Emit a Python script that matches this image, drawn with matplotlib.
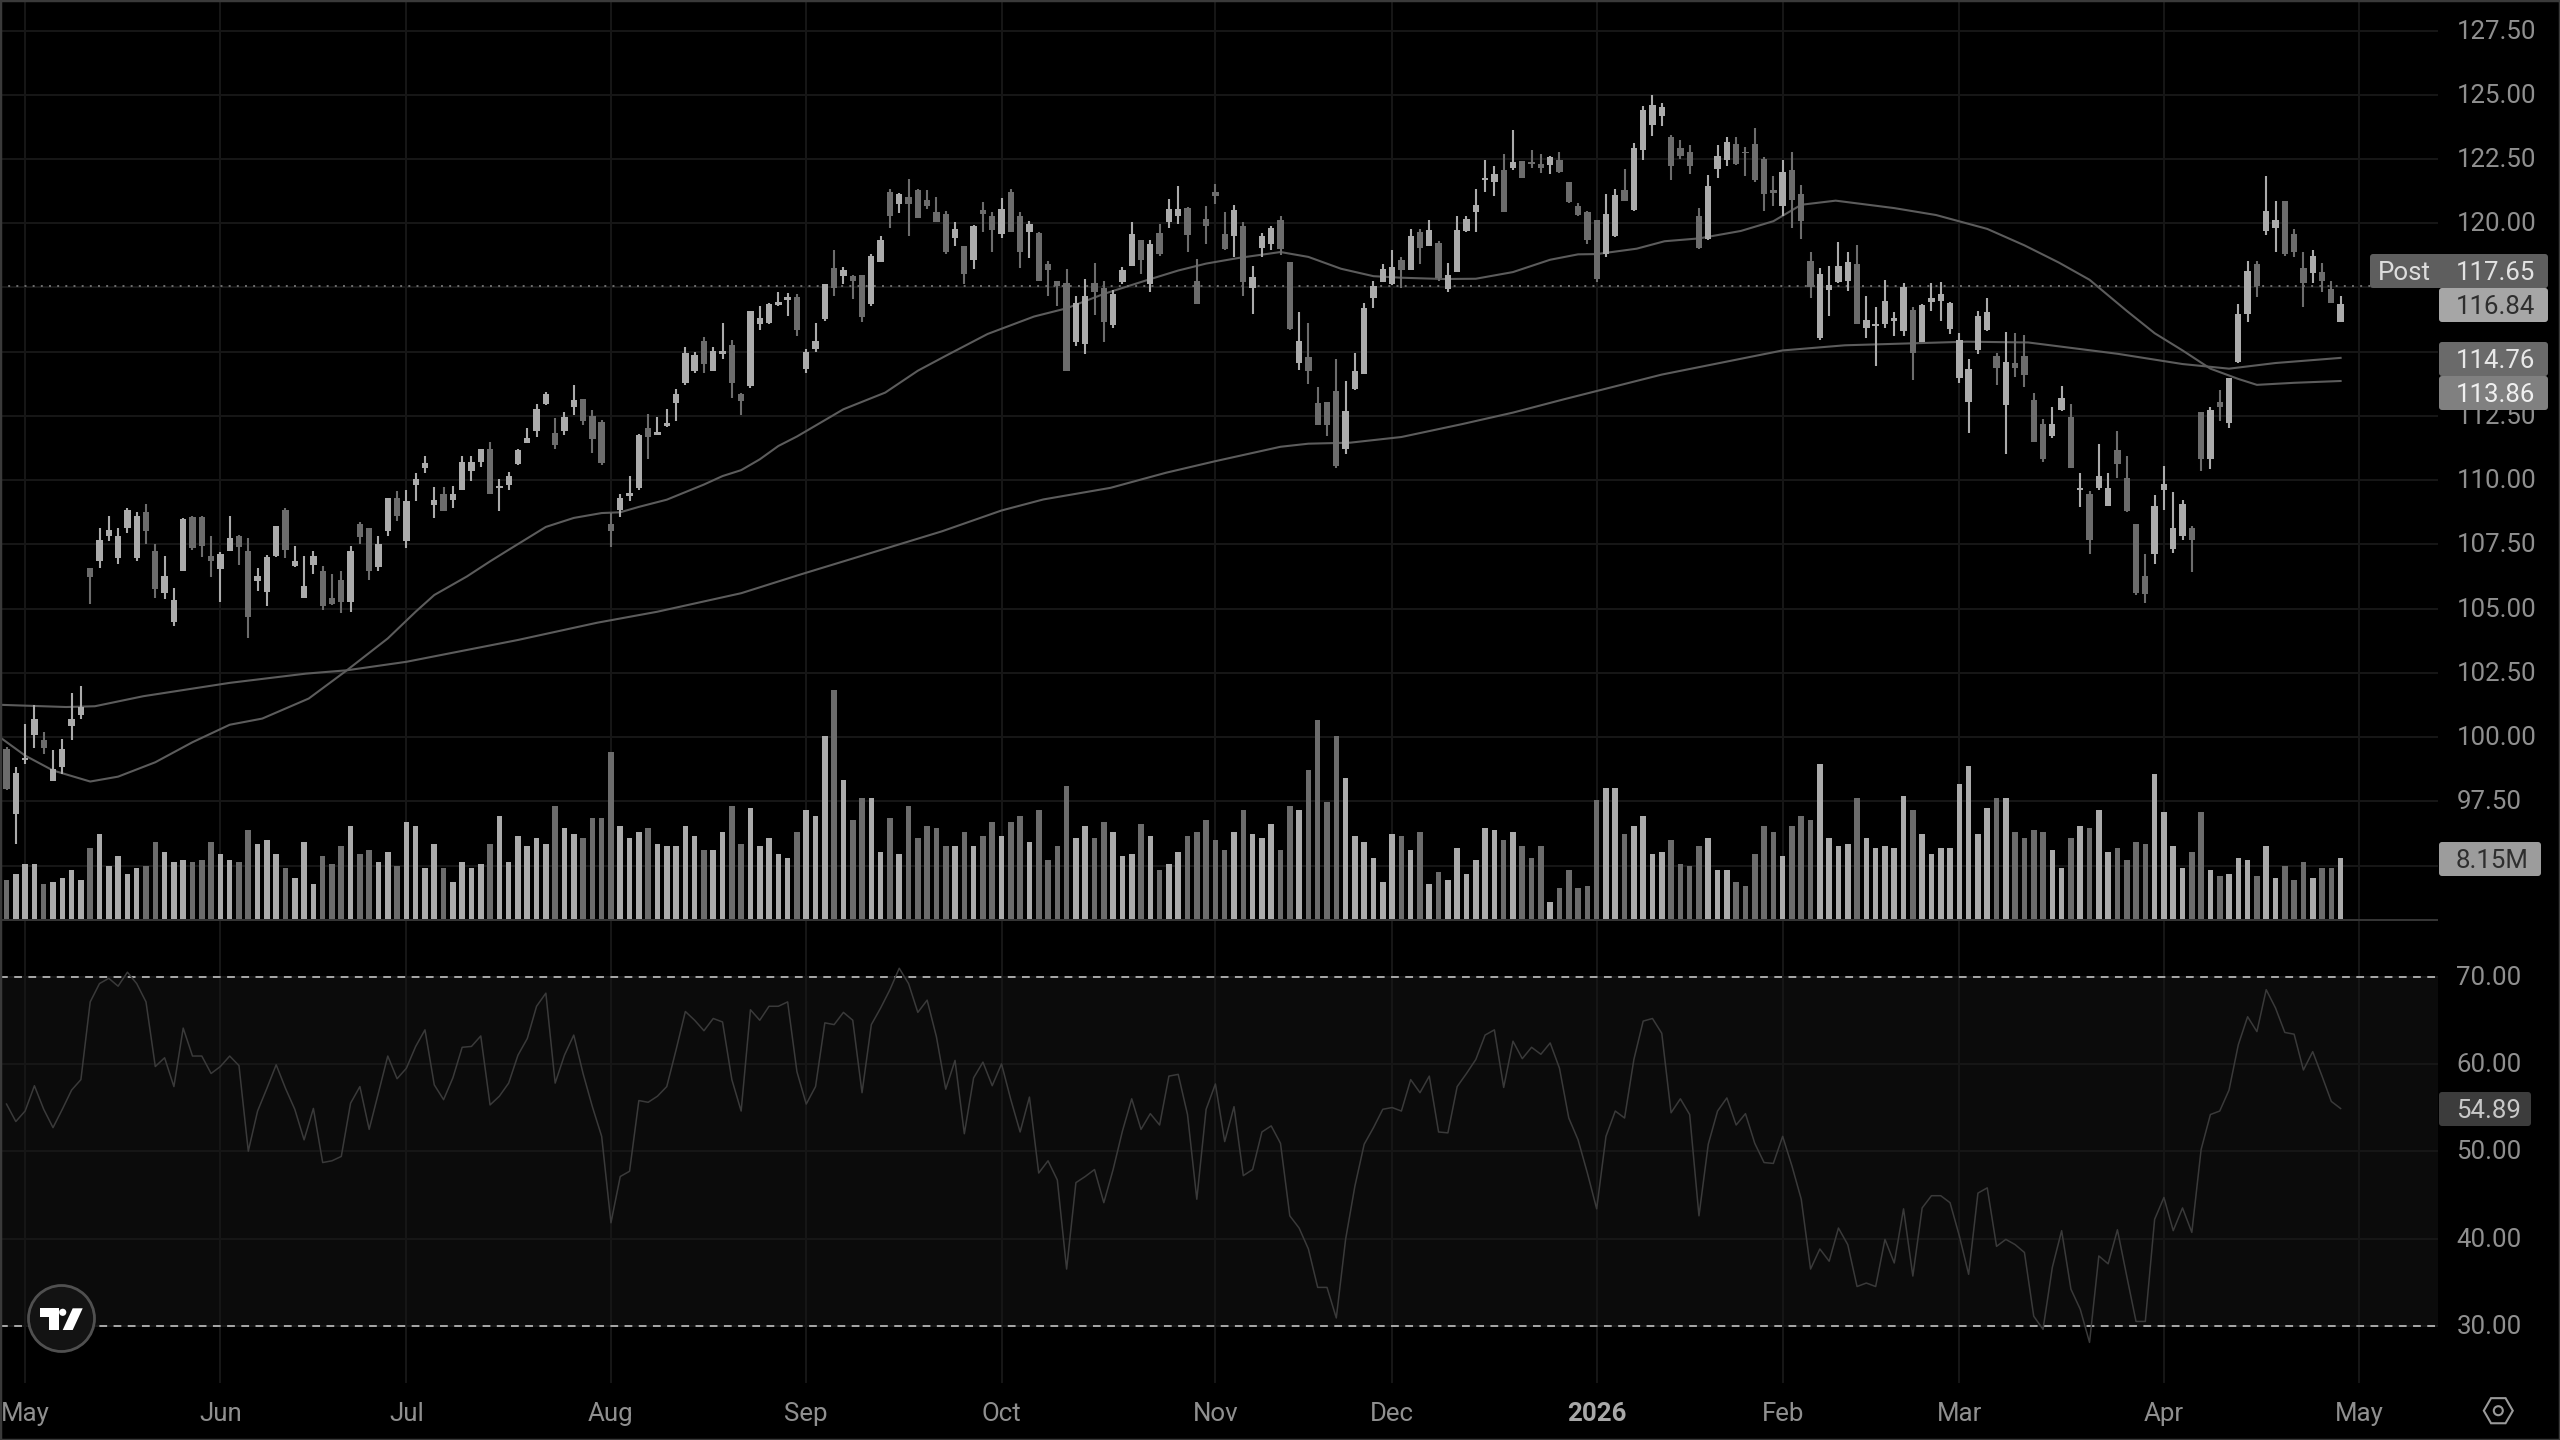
import matplotlib
matplotlib.use("Agg")
import matplotlib.pyplot as plt
from matplotlib.patches import Circle, FancyBboxPatch, Polygon, Rectangle, RegularPolygon
from matplotlib.transforms import ScaledTranslation

plt.rcParams['font.family'] = ['Roboto', 'DejaVu Sans']

# daily candles, one value per session, May 2025 to Apr 2026
opens = [99.54,97.0,99.09,100.09,99.87,98.3,98.83,100.42,100.85,106.58,106.84,107.84,106.97,108.14,106.97,108.76,107.23,105.6,104.49,106.45,
 108.55,108.57,107.03,106.54,107.23,107.84,107.23,106.06,105.66,107.06,108.85,106.67,105.43,106.71,106.45,105.4,106.12,105.27,108.31,108.14,
 106.62,108.01,109.31,107.62,109.81,110.48,109.02,109.48,109.24,109.63,110.35,110.72,111.2,109.7,109.81,110.64,111.43,111.91,112.96,111.82,
 111.91,112.85,113.15,112.5,112.26,108.31,108.85,109.38,109.7,112.04,111.75,112.11,112.99,113.8,114.26,115.43,114.26,114.91,115.26,113.35,
 113.65,116.08,116.11,116.82,117.01,117.12,114.32,115.1,116.28,118.26,117.94,117.93,117.99,116.84,118.49,121.22,120.74,121.03,121.29,120.9,
 120.42,120.35,119.43,119.1,118.58,120.51,120.27,119.57,121.2,120.27,119.66,119.64,118.4,117.77,117.68,115.37,115.3,117.68,117.49,116.04,
 117.71,118.32,119.34,117.64,119.64,120.03,120.29,120.61,117.77,120.18,121.22,119.57,119.51,119.9,117.49,119.05,119.21,120.11,118.49,114.56,
 114.81,113.02,113.06,113.48,111.22,113.54,114.15,117.1,117.71,117.64,118.56,118.17,119.66,119.11,119.24,117.45,118.1,119.69,120.42,121.68,
 121.61,122.07,122.17,122.42,122.4,122.3,122.27,122.46,121.59,120.66,120.44,120.12,118.81,119.52,121.29,120.52,122.87,123.81,124.17,123.36,
 122.92,122.76,120.28,119.38,122.12,122.47,123.07,122.79,123.07,122.49,121.29,120.68,122.06,121.15,118.54,115.55,117.4,117.73,117.77,118.41,
 115.92,115.99,116.09,116.19,115.82,116.62,115.39,116.93,116.97,115.9,113.98,113.04,115.05,115.86,114.85,112.91,114.58,114.85,113.11,112.2,
 111.7,112.75,112.47,109.62,109.45,109.69,109.01,111.17,110.09,108.28,106.27,107.14,109.62,107.34,107.81,108.15,112.64,110.83,113.04,112.24,
 114.61,116.46,118.41,119.68,119.81,120.86,119.58,118.27,118.07,118.09,117.46,116.15]
closes = [97.98,98.6,99.18,100.72,99.57,98.76,99.54,100.72,101.17,106.22,107.68,108.05,107.84,108.85,108.62,108.01,105.75,106.28,105.34,108.49,
 107.36,107.45,106.84,107.14,107.75,107.4,104.66,106.28,107.01,108.2,107.29,106.87,105.89,107.06,105.1,105.18,105.27,107.23,107.79,106.45,
 107.53,109.31,108.62,109.18,110.03,110.68,109.24,108.79,109.47,110.72,110.72,111.2,109.48,109.79,110.18,111.16,111.65,112.76,113.35,111.37,
 112.47,113.13,112.31,111.59,110.65,108.01,109.31,109.51,111.75,111.68,111.89,112.21,113.37,114.95,114.87,114.52,115.04,115.04,113.8,113.09,
 116.6,116.3,116.86,116.95,117.13,115.84,114.97,115.4,117.62,117.49,118.17,117.77,116.34,118.72,119.34,120.29,121.12,120.74,120.21,120.66,
 120.03,118.88,119.79,118.01,119.9,120.35,119.75,120.57,119.66,118.88,119.96,117.77,118.17,117.54,114.26,116.89,117.15,117.32,116.15,117.23,
 118.17,119.57,118.56,119.18,118.79,120.57,120.57,119.53,116.84,119.88,121.07,119.01,120.51,117.71,117.9,119.49,119.83,119.01,115.89,115.4,
 114.26,112.14,112.14,110.55,112.7,114.26,116.69,117.55,118.23,118.3,118.17,119.49,119.04,119.73,117.88,117.97,119.73,120.16,120.73,121.77,
 121.9,120.44,122.4,121.77,122.3,122.17,122.59,121.98,120.83,120.31,119.36,117.83,120.35,121.09,120.88,122.94,124.4,124.61,124.54,122.22,
 122.63,122.22,119.05,121.45,122.6,123.16,122.32,122.73,121.69,121.15,121.19,122.0,120.91,120.08,117.53,118.04,117.6,118.34,118.51,116.09,
 116.22,116.09,116.97,116.3,117.53,114.95,116.8,117.09,117.24,116.89,115.45,114.34,116.39,116.55,114.38,114.61,114.38,114.08,111.5,110.83,
 112.2,113.18,110.47,109.69,107.68,110.16,109.69,110.63,108.79,105.6,105.58,108.98,109.87,108.15,109.06,107.68,110.83,112.73,112.84,113.98,
 116.46,118.14,117.56,120.46,120.11,118.81,118.9,117.69,118.74,117.77,116.89,116.86]
highs = [99.6,98.85,100.5,101.24,100.2,99.48,99.93,101.73,101.98,106.58,108.14,108.62,108.14,108.92,108.76,109.08,107.51,107.06,105.79,108.53,
 108.59,108.62,107.84,107.19,108.62,107.88,107.75,106.58,107.1,108.23,108.92,107.45,107.06,107.23,106.67,106.35,106.45,107.45,108.36,108.14,
 107.84,109.31,109.57,109.63,110.26,110.96,109.73,109.73,109.79,110.96,110.96,111.22,111.48,110.03,110.31,111.2,112.04,112.98,113.45,112.43,
 112.67,113.7,113.15,112.72,112.34,108.72,109.47,110.18,111.78,112.59,112.47,112.76,113.54,115.17,115.0,115.56,115.17,116.12,115.47,113.39,
 116.6,116.78,116.91,117.34,117.27,117.25,115.1,116.12,117.62,118.95,118.3,117.97,117.99,118.79,119.51,121.35,121.18,121.74,121.35,121.29,
 121.03,120.48,120.03,119.1,119.95,120.81,120.42,121.0,121.35,120.42,120.09,119.66,118.52,117.77,118.23,117.15,117.84,118.46,117.75,117.42,
 118.3,120.03,119.36,119.34,119.96,120.96,121.45,120.64,118.62,120.66,121.52,120.42,120.73,120.03,118.32,119.62,119.9,120.27,118.49,116.54,
 116.12,113.63,113.06,114.71,113.87,114.95,116.89,117.75,118.43,118.95,118.69,119.79,119.79,120.12,119.3,118.46,120.27,120.29,121.35,122.46,
 122.23,122.7,123.63,122.42,122.85,122.7,122.62,122.79,121.59,120.79,120.48,120.12,121.15,121.35,122.12,123.12,124.57,125.01,124.7,123.43,
 123.23,123.03,120.58,121.89,123.03,123.36,123.36,122.96,123.7,122.56,121.82,122.47,122.76,121.49,118.87,118.27,118.34,119.28,118.87,119.17,
 117.16,116.73,117.8,116.53,117.67,116.75,116.86,117.67,117.73,116.93,115.72,114.72,116.57,117.09,114.96,115.75,115.72,115.66,113.4,112.37,
 112.84,113.65,112.97,110.29,109.56,111.39,110.29,111.93,110.94,108.28,107.14,109.42,110.56,109.53,109.22,108.22,112.64,112.84,113.51,113.98,
 116.86,118.54,118.54,121.82,120.86,120.88,119.79,118.87,118.94,118.47,117.77,117.16]
lows = [97.95,95.83,98.96,99.57,99.35,98.3,98.57,99.87,100.72,105.18,106.6,107.62,106.75,107.94,106.84,107.53,105.43,105.36,104.34,106.45,
 107.29,107.0,106.22,105.27,107.23,106.68,103.87,105.7,105.1,107.01,106.97,106.62,105.43,106.34,104.95,105.14,104.82,104.88,107.51,106.12,
 106.48,107.84,108.4,107.36,109.18,110.29,108.53,108.79,108.92,109.63,109.96,110.51,109.48,108.79,109.63,110.59,111.43,111.69,112.92,111.22,
 111.76,112.54,112.14,111.07,110.59,107.38,108.57,109.18,109.63,110.83,111.75,112.08,112.3,113.7,114.17,114.19,114.26,114.71,113.18,112.53,
 113.57,115.84,116.08,116.78,116.39,115.61,114.19,114.97,116.21,117.15,117.62,117.06,116.15,116.76,118.49,119.82,120.4,119.51,120.21,120.57,
 120.03,118.82,119.1,117.62,118.23,119.66,118.88,119.43,119.66,118.26,118.66,117.77,117.16,116.76,114.26,115.21,114.91,116.41,115.37,115.93,
 117.64,118.32,118.01,117.34,118.72,119.82,119.96,118.88,116.84,119.21,120.74,118.95,118.69,117.16,116.47,118.69,118.95,118.75,115.85,114.29,
 113.74,112.14,111.72,110.48,111.0,113.5,114.13,116.69,117.71,117.58,117.49,118.17,118.43,119.1,117.77,117.34,118.1,119.66,119.66,121.22,
 121.07,120.44,122.07,121.77,122.14,121.94,121.9,121.94,120.77,120.27,119.21,117.71,118.67,119.48,120.88,120.48,122.47,123.4,123.77,121.69,
 122.52,121.93,118.98,119.34,121.78,122.22,122.25,121.82,121.62,120.48,120.68,120.28,119.81,119.38,117.1,115.46,116.39,117.67,117.37,116.06,
 115.55,114.45,115.92,115.63,115.63,113.91,115.39,116.57,116.19,115.68,113.78,111.84,114.91,115.79,113.69,111.03,114.02,113.62,111.47,110.72,
 111.63,112.71,110.47,108.95,107.14,109.62,108.98,110.09,108.75,105.54,105.2,106.74,108.82,107.18,107.68,106.41,110.36,110.43,112.3,112.04,
 114.58,116.17,117.13,119.54,118.9,118.74,118.67,116.73,117.67,117.33,116.89,116.15]

# volume in millions
volume = [5.23,6.01,7.32,7.32,4.71,4.97,5.49,6.54,5.23,9.41,11.24,7.06,8.37,6.01,6.8,7.06,10.2,8.89,7.58,7.84,
 7.58,7.84,10.2,8.63,7.84,7.58,11.77,9.94,10.46,8.63,6.8,5.49,10.2,4.71,8.37,7.32,9.67,12.29,8.63,9.15,
 7.58,8.89,7.06,12.81,12.29,6.8,9.94,6.8,4.97,7.58,6.8,7.32,9.94,13.6,7.58,10.98,9.67,10.72,9.94,14.9,
 12.03,11.24,10.72,13.34,13.34,21.96,12.29,10.72,11.5,12.03,9.94,9.67,9.67,12.29,10.98,9.15,9.15,11.5,14.9,9.94,
 14.64,9.67,10.72,8.63,8.11,11.5,14.38,13.6,24.06,30.07,18.3,13.07,15.95,15.95,8.89,13.34,8.63,14.9,10.72,12.29,
 12.03,9.67,9.67,11.5,9.67,10.98,12.81,10.98,12.81,13.6,10.2,14.38,7.84,9.67,17.52,10.72,12.29,10.72,12.81,11.5,
 8.37,8.63,12.55,10.98,6.54,7.32,8.89,10.98,11.5,13.07,10.46,9.15,11.5,14.38,11.24,10.72,12.55,9.15,14.9,14.38,
 19.61,26.15,15.43,24.06,18.56,10.98,10.2,8.11,4.97,11.24,10.98,9.15,11.5,4.71,6.28,5.23,9.41,6.01,7.84,12.03,
 11.77,10.46,11.5,9.67,8.11,9.67,2.35,4.18,6.54,4.18,4.45,15.69,17.26,17.26,11.24,12.29,13.6,8.63,8.89,10.46,
 7.32,7.06,9.67,10.72,6.54,6.54,4.97,4.45,8.63,12.29,11.5,8.37,12.29,13.6,13.07,20.4,10.72,9.67,9.94,15.95,
 10.72,9.41,9.67,9.41,16.21,14.38,11.24,8.63,9.41,9.41,17.78,20.13,11.24,14.64,15.95,15.95,11.5,10.72,11.77,11.5,
 9.15,6.8,10.72,12.29,12.03,14.38,8.89,9.41,7.84,10.2,9.94,19.09,14.12,9.67,6.8,8.89,14.12,6.54,5.75,6.01,
 8.11,7.84,5.75,9.67,5.49,7.06,5.23,7.58,5.49,6.8,6.8,8.15]

rsi = [55.4,53.4,54.6,57.5,54.8,52.7,54.8,57.0,58.2,67.1,69.2,69.8,68.9,70.5,69.2,67.1,59.7,60.7,57.4,64.1,
 60.9,60.9,58.9,59.7,60.9,59.8,50.0,54.6,57.2,59.9,57.2,54.8,51.3,54.9,48.7,48.9,49.4,55.5,57.4,52.5,
 56.7,60.9,58.3,59.5,62.0,63.9,57.6,55.9,58.4,61.9,62.0,63.2,55.3,56.3,57.8,61.0,62.9,66.6,68.1,57.8,
 61.0,63.3,58.9,55.1,51.7,41.8,47.1,47.7,55.8,55.6,56.3,57.4,61.6,66.0,65.0,63.8,65.2,64.8,58.2,54.6,
 66.2,65.0,66.6,66.6,67.1,59.1,55.4,57.4,64.7,64.5,65.9,65.0,56.7,64.5,66.4,68.5,70.95,69.2,65.9,67.3,
 63.1,57.1,60.4,52.0,58.4,60.2,57.5,60.0,55.9,52.2,56.2,47.5,48.9,46.7,36.5,46.4,47.1,47.9,44.1,47.9,
 52.3,56.0,52.5,54.3,53.0,58.6,58.8,54.2,44.5,54.8,57.7,51.1,55.1,47.2,47.9,52.2,52.9,50.9,42.6,41.2,
 38.8,34.4,34.4,30.9,39.9,46.0,50.8,52.7,54.8,55.0,54.6,58.2,56.7,58.6,52.2,52.1,57.4,58.9,60.5,63.3,
 63.9,57.3,62.6,60.6,61.9,61.1,62.4,59.5,53.8,51.3,47.5,43.4,51.7,54.6,53.8,60.5,64.9,65.2,63.5,54.4,
 56.0,54.2,42.6,50.8,54.6,56.1,53.0,54.3,50.9,48.7,48.6,51.7,48.3,44.5,36.5,38.8,37.4,41.2,39.3,34.5,
 34.9,34.5,39.9,37.2,43.4,35.7,43.5,44.9,44.9,44.1,40.3,35.9,45.2,45.8,39.1,39.9,39.3,38.4,31.1,29.6,
 36.7,40.9,34.2,31.9,28.1,38.0,37.1,41.0,35.7,30.5,30.5,42.2,44.7,40.9,43.5,40.7,50.2,54.2,54.6,57.0,
 62.2,65.4,63.7,68.5,66.4,63.6,63.4,59.3,61.4,58.6,55.7,54.89]

# moving averages, read at the sessions where the curve bends
ma50_days = [-1,2,5,9,12,16,20,24,27.5,32.5,36.6,41,44,46,49.5,52,54,58,61,64,66,68,71,75,77,79,81,83,85,
 90,94.5,98,101,105.5,110.5,114,118,122.5,126,129,132.5,137,140,143.5,147,150,154.5,158,162,166,169,171,
 175.3,178.3,182,186.5,190,193,196.7,203,207.5,213,217,220.7,224,228,231,234,237,240,242,246,251]
ma50 = [100.07,99.28,98.7,98.27,98.46,99.02,99.8,100.48,100.72,101.5,102.6,103.84,104.88,105.53,106.25,106.84,107.29,108.18,108.53,108.72,108.75,108.96,109.24,109.83,110.16,110.39,110.81,111.33,111.7,
 112.76,113.41,114.26,114.84,115.69,116.37,116.69,117.25,117.77,118.16,118.43,118.65,118.88,118.69,118.23,117.94,117.88,117.83,117.84,118.1,118.58,118.79,118.8,
 119.01,119.3,119.41,119.7,120.08,120.72,120.88,120.59,120.32,119.78,119.14,118.47,117.8,116.59,115.72,115.05,114.34,113.94,113.71,113.79,113.86]
ma200_days = [-1,6.4,9.5,14.7,24,32.2,36.6,43,55,63.5,70,79,85.3,100.6,107,111.5,118.7,124.7,130,137,140,144.5,150,156.5,162,167.5,171,
 178,184.5,191,197.7,204.3,210.8,217.4,227,234,239,244,251]
ma200 = [101.26,101.17,101.2,101.59,102.11,102.47,102.6,102.93,103.78,104.45,104.88,105.6,106.32,108.01,108.82,109.25,109.7,110.29,110.74,111.3,111.42,111.46,111.68,112.18,112.63,113.15,113.47,
 114.11,114.58,115.05,115.25,115.32,115.39,115.36,114.92,114.52,114.34,114.56,114.76]

price_ticks = [95,97.5,100,102.5,105,107.5,110,112.5,115,117.5,120,122.5,125,127.5]
# these three sit under the value tags in the reference
hidden_ticks = [95,115,117.5]
rsi_ticks = [30,40,50,60,70]
month_days = [2,23,43,65,86,107,130,149,171,191,210,232,253]
month_labels = ['May','Jun','Jul','Aug','Sep','Oct','Nov','Dec','2026','Feb','Mar','Apr','May']

UP = '#ababab'
DOWN = '#6c6c6c'
GRID = '#171717'
TEXT = '#8f8f8f'

W, H = 2560, 1440
PLOT_R = 2437.6
DIV_Y = 920
RSI_B = 1383

fig = plt.figure(figsize=(W / 100, H / 100), dpi=100, facecolor='black')

def make_axes(top, bottom, z):
    a = fig.add_axes([0, 1 - bottom / H, PLOT_R / W, (bottom - top) / H], zorder=z)
    a.patch.set_visible(False)
    a.set_xlim(-0.7, 261.43)
    for s in a.spines.values():
        s.set_visible(False)
    a.tick_params(length=0)
    return a

ax = make_axes(0, DIV_Y, 1)
ax_vol = make_axes(0, DIV_Y, 2)
ax_rsi = make_axes(DIV_Y, RSI_B, 1)

days = list(range(len(closes)))

# price pane
ax.set_ylim(92.88, 128.69)
ax.set_yticks(price_ticks)
ax.set_yticklabels(['' if t in hidden_ticks else f'{t:.2f}' for t in price_ticks], fontsize=18.6, color=TEXT, ha='left')
ax.yaxis.tick_right()
ax.tick_params(axis='y', pad=13.5)
ax.set_xticks(month_days)
ax.set_xticklabels([])
ax.grid(True, color=GRID, lw=1.4)
ax.set_axisbelow(True)

ax.plot(ma50_days, ma50, color='#5c5c5c', lw=1.5, zorder=2)
ax.plot(ma200_days, ma200, color='#5c5c5c', lw=1.5, zorder=2)
ax.axhline(117.57, color='#6e6e6e', lw=1.4, ls=(0, (1, 3.2)), zorder=2)

colors = [UP if c >= o else DOWN for o, c in zip(opens, closes)]
ax.vlines(days, lows, highs, colors=colors, lw=1.5, zorder=3)
bottoms = [min(o, c) for o, c in zip(opens, closes)]
heights = [max(abs(c - o), 0.06) for o, c in zip(opens, closes)]
ax.bar(days, heights, bottom=bottoms, width=0.68, color=colors, lw=0, zorder=4)

# volume pane shares the price area
ax_vol.set_ylim(0, 120.3)
ax_vol.bar(days, volume, width=0.6, color=colors, lw=0)
ax_vol.set_xticks([])
ax_vol.set_yticks([])

# rsi pane
ax_rsi.set_ylim(23.45, 76.48)
ax_rsi.axhspan(30, 70, color='#0b0b0b', lw=0, zorder=0)
ax_rsi.set_yticks(rsi_ticks)
ax_rsi.set_yticklabels([f'{t:.2f}' for t in rsi_ticks], fontsize=18.6, color=TEXT, ha='left')
ax_rsi.yaxis.tick_right()
ax_rsi.tick_params(axis='y', pad=13.5)
ax_rsi.set_xticks(month_days)
ax_rsi.set_xticklabels(month_labels, fontsize=18.6, color=TEXT)
ax_rsi.tick_params(axis='x', pad=13.5)
ax_rsi.get_xticklabels()[8].set_fontweight('bold')
ax_rsi.get_xticklabels()[8].set_color('#a8a8a8')
ax_rsi.grid(True, color=GRID, lw=1.4)
ax_rsi.set_axisbelow(True)
ax_rsi.plot(days, rsi, color='#3a3a3a', lw=1.1, zorder=3)
for level in (30, 70):
    ax_rsi.axhline(level, color='#a8a8a8', lw=1.4, ls=(0, (4, 3.3)), zorder=2)

# everything below is in pixel coordinates of the screenshot
def px(x, y):
    return x / W, 1 - y / H

def inch(x, y):
    return x / 100, (H - y) / 100

def tag(x0, y0, x1, y1, label, face, fg):
    fig.add_artist(FancyBboxPatch(inch(x0 + 3, y1 - 3), (x1 - x0 - 6) / 100, (y1 - y0 - 6) / 100,
                                  boxstyle='round,pad=0.03', transform=fig.dpi_scale_trans,
                                  fc=face, ec='none', zorder=5))
    if x0 > 2400:
        fig.text(*px(2456, (y0 + y1) / 2 + 1.5), label, fontsize=18.6, color=fg, va='center', ha='left', zorder=6)
    else:
        fig.text(*px((x0 + x1) / 2 - 3, (y0 + y1) / 2 + 1.5), label, fontsize=18.6, color=fg, va='center', ha='center', zorder=6)

fig.add_artist(Rectangle(px(0, DIV_Y + 1), PLOT_R / W, 2 / H, transform=fig.transFigure, fc='#353535', lw=0, zorder=3))

tag(2370, 254, 2445, 288, 'Post', '#5e5e5e', '#dddddd')
tag(2439, 254, 2548, 288, '117.65', '#5e5e5e', '#e2e2e2')
tag(2439, 288, 2548, 322, '116.84', '#a6a6a6', '#2e2e2e')
tag(2439, 342, 2548, 376, '114.76', '#6a6a6a', '#e8e8e8')
tag(2439, 376, 2548, 410, '113.86', '#808080', '#f0f0f0')
tag(2439, 842, 2541, 876, '8.15M', '#9c9c9c', '#2e2e2e')
tag(2439, 1092, 2531, 1126, '54.89', '#3c3c3c', '#c8c8c8')

# logo badge
fig.add_artist(Circle(inch(61.5, 1318.5), 0.33, transform=fig.dpi_scale_trans, fc='#131313', ec='#505050', lw=2, zorder=5))
t_shape = [(40, 1308.3), (59.3, 1308.3), (59.3, 1330), (49.3, 1330), (49.3, 1316.7), (40, 1316.7)]
slash = [(72.7, 1308.3), (82.7, 1308.3), (72.7, 1330), (62.7, 1330)]
for shape in (t_shape, slash):
    fig.add_artist(Polygon([px(*p) for p in shape], closed=True, transform=fig.transFigure, fc='white', lw=0, zorder=6))
fig.add_artist(Circle(inch(62.7, 1312.3), 0.036, transform=fig.dpi_scale_trans, fc='white', lw=0, zorder=6))

# settings icon
fig.add_artist(RegularPolygon(inch(2498.3, 1410.7), 6, radius=0.145, orientation=0.5236,
                              transform=fig.dpi_scale_trans, fc='none', ec='#9a9a9a', lw=1.5, zorder=6))
fig.add_artist(Circle(inch(2498.3, 1410.7), 0.045, transform=fig.dpi_scale_trans, fc='none', ec='#9a9a9a', lw=1.5, zorder=6))

# window frame
fig.add_artist(Rectangle((0, 0), 1, 1, transform=fig.transFigure, fc='none', ec='#3a3a3a', lw=2.5, zorder=7))

# axis labels sit a hair high in the screenshot, shift them up
up = ScaledTranslation(0, 0.015, fig.dpi_scale_trans)
for axis in (ax.yaxis, ax_rsi.yaxis):
    for t in axis.get_major_ticks():
        t.label2.set_transform(t.label2.get_transform() + up)

fig.savefig('out.png', dpi=100, facecolor='black')
